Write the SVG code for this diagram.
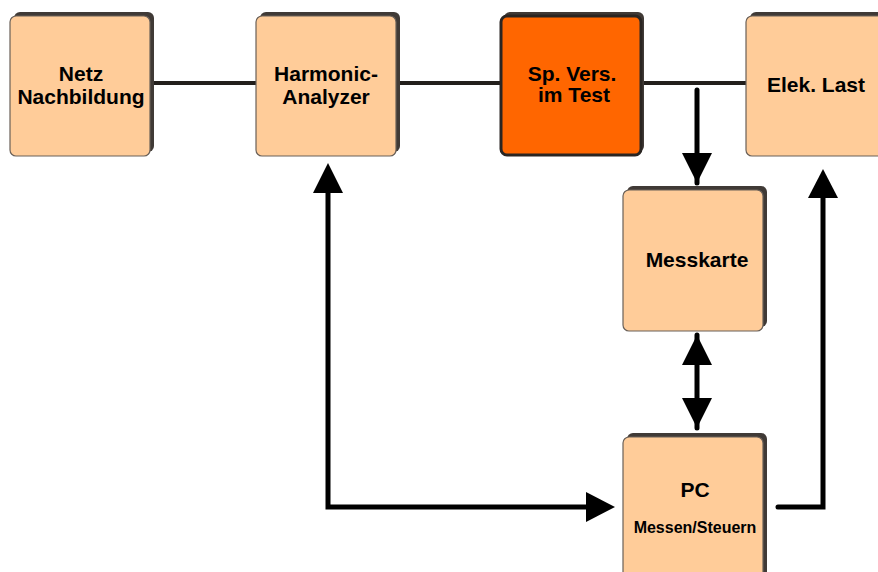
<svg xmlns="http://www.w3.org/2000/svg" width="878" height="572" viewBox="0 0 878 572">
<defs>
<style>
.sh{fill:#403a36;}
.box{fill:#FFCC99;stroke:#6a6058;stroke-width:1.2;}
.dut{fill:#FF6600;stroke:#2a2522;stroke-width:3;}
.t{font-family:"Liberation Sans",Arial,sans-serif;font-weight:bold;font-size:21px;fill:#000;text-anchor:middle;}
.ts{font-size:16px;}
.ln{stroke:#231f1c;stroke-width:4;fill:none;}
.ar{stroke:#000;stroke-width:5;fill:none;stroke-linecap:round;}
</style>
<marker id="ah" markerUnits="userSpaceOnUse" markerWidth="30" markerHeight="30" viewBox="0 0 30 30" refX="30" refY="15" orient="auto-start-reverse">
<path d="M0,0 L30,15 L0,30 z" fill="#000"/>
</marker>
</defs>
<g id="connectors">
<line class="ln" x1="150" y1="83" x2="746" y2="83"/>
<line class="ar" x1="697" y1="90" x2="697" y2="183" marker-end="url(#ah)" stroke-linecap="butt"/>
<line class="ar" x1="697" y1="335" x2="697" y2="428" marker-start="url(#ah)" marker-end="url(#ah)" stroke-linecap="butt"/>
<polyline class="ar" points="328,192 328,507 590,507"/>
<path d="M328,163 L343,193 L313,193 z" fill="#000"/>
<path d="M615,507 L586,492 L586,522 z" fill="#000"/>
<polyline class="ar" points="778,507 823,507 823,195"/>
<path d="M823,169 L838,198 L808,198 z" fill="#000"/>
</g>
<g id="netz">
<rect class="sh" x="14" y="12" width="140" height="140" rx="6"/>
<rect class="box" x="10" y="16" width="140" height="140" rx="6"/>
<text class="t" x="81" y="81">Netz</text>
<text class="t" x="81" y="104">Nachbildung</text>
</g>
<g id="harmonic">
<rect class="sh" x="260" y="12" width="140" height="140" rx="6"/>
<rect class="box" x="256" y="16" width="140" height="140" rx="6"/>
<text class="t" x="326" y="81">Harmonic-</text>
<text class="t" x="326" y="104">Analyzer</text>
</g>
<g id="spvers">
<rect class="sh" x="504" y="12" width="140" height="140" rx="6"/>
<rect class="dut" x="501" y="16" width="140" height="139" rx="6"/>
<text class="t" x="572" y="81">Sp. Vers.</text>
<text class="t" x="574" y="102">im Test</text>
</g>
<g id="last">
<rect class="sh" x="750" y="12" width="140" height="140" rx="6"/>
<rect class="box" x="746" y="16" width="140" height="140" rx="6"/>
<text class="t" x="816" y="92">Elek. Last</text>
</g>
<g id="messkarte">
<rect class="sh" x="627" y="186" width="140" height="141" rx="6"/>
<rect class="box" x="623" y="190" width="140" height="141" rx="6"/>
<text class="t" x="697" y="267">Messkarte</text>
</g>
<g id="pc">
<rect class="sh" x="627" y="433" width="140" height="150" rx="6"/>
<rect class="box" x="623" y="437" width="140" height="150" rx="6"/>
<text class="t" x="695" y="497">PC</text>
<text class="t ts" x="695" y="533">Messen/Steuern</text>
</g>
</svg>
